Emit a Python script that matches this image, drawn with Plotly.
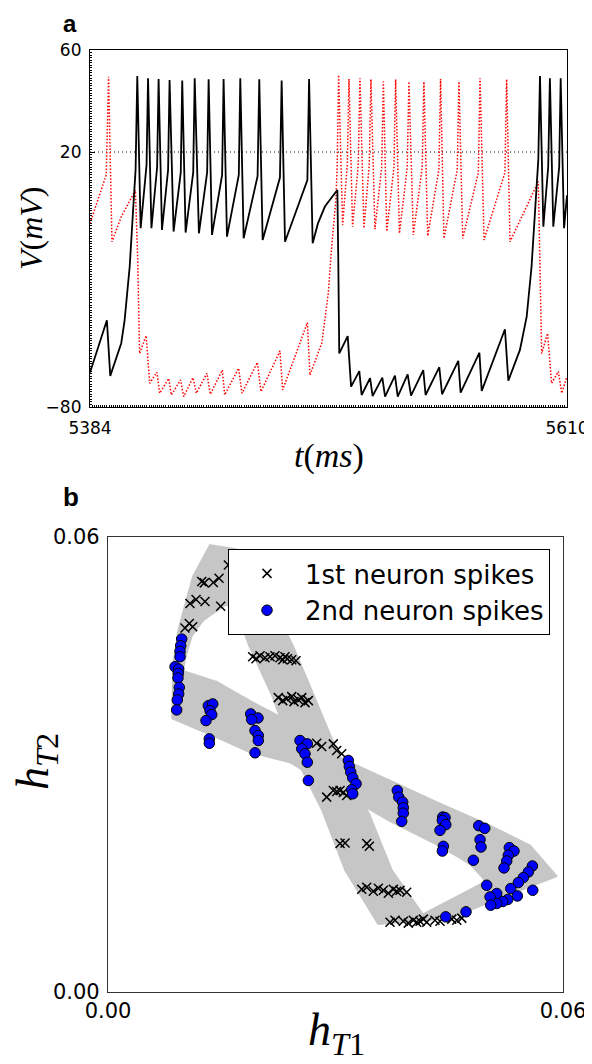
import plotly.graph_objects as go

# ---------------- Panel a : membrane potentials ----------------
V_THRESHOLD = 20  # mV, dotted reference line

t1_ms = [5384.0, 5392.0, 5393.6, 5398.8, 5400.4, 5402.8, 5404.4, 5405.6,
         5406.4, 5408.0, 5410.8, 5411.5, 5413.1, 5415.8, 5416.5, 5418.1,
         5421.0, 5421.7, 5423.6, 5427.0, 5427.7, 5429.3, 5432.9, 5433.6, 5435.6,
         5439.5, 5440.2, 5441.8, 5446.6, 5447.3, 5448.9, 5454.5, 5455.2, 5456.8,
         5463.4, 5464.2, 5465.8, 5474.0, 5474.8, 5476.4, 5487.0, 5487.8, 5489.5,
         5492.0, 5495.3, 5501.2, 5501.6, 5502.1, 5506.1, 5507.7, 5511.6, 5512.7,
         5516.7, 5517.9, 5522.5, 5523.8, 5528.5, 5529.8, 5534.5, 5536.1,
         5541.9, 5543.0, 5549.5, 5550.8, 5558.5, 5559.6, 5568.5, 5569.6,
         5580.6, 5582.2, 5587.7, 5590.9, 5593.2, 5595.3, 5596.4,
         5597.2, 5598.8, 5601.1, 5601.9, 5603.5, 5606.3, 5607.0, 5608.6, 5610.0]
v1_mV = [-66.5, -46.0, -67.8, -55.0, -46.0, -25.0, -3.0, 13.0,
         49.8, -9.9, 15.0, 48.9, -9.9, 14.0, 48.6, -10.6,
         13.0, 48.2, -11.2, 12.0, 48.0, -11.6, 12.0, 48.9, -11.9,
         12.0, 48.5, -12.5, 11.0, 48.6, -13.2, 11.0, 48.9, -13.8,
         10.5, 48.5, -14.5, 10.0, 48.0, -15.2, 9.0, 48.6, -15.8,
         -8.0, -1.4, 5.1, -20.0, -59.0, -52.2, -72.0, -65.9, -75.3,
         -68.7, -75.7, -68.5, -75.9, -67.7, -75.9, -67.2, -75.5,
         -65.5, -75.3, -64.4, -75.0, -61.9, -74.4, -58.7, -73.7,
         -49.5, -69.7, -57.6, -44.6, -25.0, -0.1, 16.9,
         49.8, -9.3, 14.3, 48.9, -9.3, 14.0, 48.9, -9.9, 3.0]

t2_ms = [5384.0, 5391.7, 5392.8, 5394.4, 5398.8, 5404.4, 5405.5, 5406.6, 5407.5,
         5410.6, 5412.3, 5415.7, 5417.0, 5421.3, 5422.5, 5426.9, 5428.4,
         5432.8, 5434.4, 5439.4, 5441.0, 5446.7, 5447.8, 5454.4, 5456.0,
         5463.3, 5465.0, 5474.0, 5475.3, 5487.0, 5488.2, 5493.8, 5496.9,
         5498.5, 5500.5, 5501.1, 5501.8, 5503.7,
         5505.9, 5506.7, 5508.4, 5511.1, 5511.9, 5513.8, 5516.3, 5517.1, 5519.0,
         5522.2, 5523.0, 5524.6, 5528.0, 5528.8, 5530.6, 5534.3, 5535.1, 5537.2,
         5541.4, 5542.2, 5544.0, 5549.3, 5550.1, 5551.7, 5558.0, 5558.8, 5560.6,
         5568.0, 5568.8, 5570.7, 5580.6, 5581.4, 5583.0,
         5596.4, 5597.2, 5598.0, 5600.8, 5602.7, 5605.9, 5607.5, 5610.0]
v2_mV = [-8.0, 11.0, 49.5, -15.2, -5.4, 3.8, 5.0, -22.0, -59.0,
         -52.0, -70.7, -66.4, -74.6, -68.8, -75.3, -69.4, -75.9,
         -68.5, -74.6, -66.8, -75.0, -65.5, -75.3, -64.8, -74.6,
         -62.5, -74.0, -58.0, -73.3, -46.9, -67.5, -55.0, -35.4,
         -17.1, 1.2, 14.0, 50.2, -8.6,
         15.0, 48.6, -9.3, 15.0, 48.9, -9.9, 15.0, 48.5, -10.3,
         14.0, 47.6, -11.2, 14.0, 48.5, -11.9, 14.0, 47.6, -12.5,
         14.0, 47.6, -12.9, 13.0, 48.6, -13.9, 13.0, 47.6, -13.9,
         12.0, 48.9, -14.5, 12.0, 48.5, -15.2,
         8.4, -22.4, -59.0, -51.1, -70.7, -66.1, -74.6, -68.0]

t_ticks = [5384, 5610]
t_ticktext = ["5384", "5610"]
v_ticks = [-80, 20, 60]
v_ticktext = ["\u221280", "20", "60"]

# ---------------- Panel b : (h_T1, h_T2) phase plane ----------------
H_UNIT = 1e-3  # values below are read in units of 1e-3

# two edges of the grey band of trajectories (corresponding stations)
band_a_hT1 = [13.45, 11.21, 10.29, 9.23, 8.57, 8.44, 14.37, 18.73, 24.00, 30.60,
              37.19, 43.78, 47.74, 49.46, 49.59, 47.08, 43.78, 41.54, 37.45, 34.55,
              30.46, 27.17, 24.40, 20.31, 16.88]
band_a_hT2 = [58.95, 54.87, 51.58, 47.63, 43.03, 36.05, 33.55, 31.58, 30.26, 26.32,
              22.50, 19.21, 16.84, 15.00, 14.47, 13.16, 11.45, 10.26, 16.05, 23.29,
              31.18, 39.08, 45.66, 54.21, 58.42]
band_b_hT1 = [15.56, 13.98, 12.53, 11.08, 10.29, 9.89, 14.37, 18.73, 24.00, 30.60,
              37.19, 43.78, 50.38, 55.65, 59.21, 51.69, 45.10, 35.61, 31.26, 28.22,
              24.40, 21.63, 18.59, 17.14, 16.35]
band_b_hT2 = [51.05, 50.00, 48.95, 46.97, 44.34, 42.37, 40.92, 38.42, 35.66, 30.92,
              27.89, 24.87, 21.97, 19.34, 15.26, 12.37, 9.74, 8.95, 16.05, 23.95,
              31.58, 39.08, 45.66, 49.61, 50.66]

spk1_hT1 = [12.36, 12.70, 13.89, 14.64, 15.87, 10.81, 11.61, 12.79, 14.86,
            10.15, 10.72, 11.17,
            19.08, 19.52, 20.05, 20.70, 21.36, 22.02, 22.68, 23.04, 23.34, 23.65, 24.23, 24.79,
            22.46, 23.04, 23.57, 24.23, 24.53, 25.10, 25.55, 25.98, 26.42,
            27.52, 28.18, 29.71, 30.16, 30.82,
            28.84, 29.71, 30.16, 30.60, 31.03, 31.48,
            30.60, 31.26, 34.12, 34.46,
            33.46, 34.12, 34.99, 35.65, 36.31, 36.97, 37.63, 38.07, 38.51, 39.39,
            37.19, 37.85, 38.94, 39.60, 40.26, 40.71, 41.15, 41.58, 42.03, 43.12,
            43.78, 45.33, 45.99, 46.65]
spk1_hT2 = [54.12, 53.95, 53.99, 54.57, 56.32, 51.22, 51.75, 51.49, 50.88,
            47.99, 48.59, 48.16,
            44.21, 43.95, 44.34, 44.08, 44.21, 44.34, 44.08, 43.82, 44.21, 43.95, 43.82, 43.68,
            38.82, 38.42, 38.68, 38.95, 38.29, 38.55, 38.82, 38.16, 38.42,
            32.80, 32.37, 32.72, 31.84, 31.41,
            25.70, 26.58, 26.45, 26.58, 26.32, 25.92,
            19.57, 19.64, 19.57, 19.21,
            13.55, 13.82, 13.29, 13.68, 13.42, 13.03, 13.55, 13.29, 13.42, 13.16,
            9.21, 9.47, 9.34, 9.08, 9.47, 9.21, 9.34, 9.61, 9.21, 9.47,
            9.34, 9.61, 9.47, 9.74]

spk2_hT1 = [9.72, 9.59, 9.50, 9.50, 8.84, 9.32, 9.27, 9.23, 9.40, 9.32, 9.14, 9.06,
            13.23, 13.81, 13.45, 13.68, 12.92, 13.36, 13.36,
            18.82, 19.78, 18.95, 19.39, 19.82, 19.82, 19.39,
            25.32, 26.28, 25.55, 25.98, 26.28, 26.42,
            31.69, 31.82, 32.01, 32.27, 32.71, 32.14, 32.27,
            38.15, 38.34, 38.86, 38.94, 38.94, 38.73,
            44.14, 44.44, 44.09, 44.54, 43.78, 44.22, 44.09,
            48.89, 49.68, 49.06, 49.19, 48.18,
            52.92, 53.54, 52.79, 52.58, 52.22,
            55.96, 55.43, 54.77, 54.11, 53.11, 56.01, 53.98, 52.71, 52.05, 51.26,
            51.26, 50.38, 50.47, 49.94,
            44.54, 47.21]
spk2_hT2 = [46.54, 45.66, 44.91, 44.21, 42.89, 42.59, 42.01, 41.41, 40.17, 39.30, 38.51, 37.20,
            37.76, 37.99, 37.11, 36.58, 35.79, 33.38, 32.80,
            36.67, 36.14, 35.92, 34.47, 33.82, 33.16, 31.54,
            33.16, 32.72, 32.07, 31.41, 30.30, 27.89,
            30.53, 29.74, 28.99, 28.25, 27.46, 26.67, 26.14,
            26.58, 25.70, 25.04, 24.30, 23.59, 22.50,
            23.07, 22.99, 22.63, 22.07, 21.32, 19.21, 18.59,
            21.93, 21.58, 20.09, 19.12, 17.37,
            19.04, 18.59, 18.03, 17.28, 16.36,
            16.62, 15.83, 15.09, 14.43, 13.64, 13.42, 12.67, 12.20, 11.93, 12.99,
            11.67, 12.54, 11.45, 14.08,
            9.91, 10.57]

h_ticks = [0.0, 0.06]
h_ticktext = ["0.00", "0.06"]
legend_names = ["1st neuron spikes", "2nd neuron spikes"]

# ---------------- Figure ----------------
fig = go.Figure()

# Panel a traces
fig.add_trace(go.Scatter(x=[t_ticks[0], t_ticks[-1]], y=[V_THRESHOLD, V_THRESHOLD],
                         mode="lines", line=dict(color="black", width=1, dash="1px,3px"),
                         xaxis="x", yaxis="y", showlegend=False, hoverinfo="skip"))
fig.add_trace(go.Scatter(x=t2_ms, y=v2_mV, mode="lines",
                         line=dict(color="red", width=1.5, dash="1.5px,1.8px"),
                         xaxis="x", yaxis="y", showlegend=False))
fig.add_trace(go.Scatter(x=t1_ms, y=v1_mV, mode="lines",
                         line=dict(color="black", width=1.8),
                         xaxis="x", yaxis="y", showlegend=False))

# Panel b: grey band built from the two edge trajectories
n = len(band_a_hT1)
qx, qy = [], []
for i in range(n):
    j = (i + 1) % n
    qx += [band_a_hT1[i], band_a_hT1[j], band_b_hT1[j], band_b_hT1[i], band_a_hT1[i], None]
    qy += [band_a_hT2[i], band_a_hT2[j], band_b_hT2[j], band_b_hT2[i], band_a_hT2[i], None]
qx = [v * H_UNIT if v is not None else None for v in qx]
qy = [v * H_UNIT if v is not None else None for v in qy]
fig.add_trace(go.Scatter(x=qx, y=qy, mode="lines", fill="toself",
                         fillcolor="#c6c6c6", line=dict(color="#c6c6c6", width=1.5),
                         xaxis="x2", yaxis="y2", showlegend=False, hoverinfo="skip"))

fig.add_trace(go.Scatter(x=[v * H_UNIT for v in spk1_hT1], y=[v * H_UNIT for v in spk1_hT2],
                         mode="markers", name=legend_names[0],
                         marker=dict(symbol="x-thin", size=9, color="black",
                                     line=dict(color="black", width=1.5)),
                         xaxis="x2", yaxis="y2"))
fig.add_trace(go.Scatter(x=[v * H_UNIT for v in spk2_hT1], y=[v * H_UNIT for v in spk2_hT2],
                         mode="markers", name=legend_names[1],
                         marker=dict(symbol="circle", size=10.5, color="#0000ff",
                                     line=dict(color="black", width=1)),
                         xaxis="x2", yaxis="y2"))

# The page places the figure 8 px in from the window's top-left corner;
# layout positions below are given in window pixels and converted.
OFF = 8
W, H = 592 - OFF, 1064 - OFF


def fx(px):
    return (px - OFF) / W


def fy(py):
    return 1 - (py - OFF) / H


ax_a = dict(l=90, r=567, t=50, b=407)
ax_b = dict(l=108, r=563, t=537, b=992)

common = dict(showgrid=False, zeroline=False, showline=True, mirror=True,
              ticks="inside", tickcolor="black", automargin=False)

fig.update_layout(
    width=W, height=H, margin=dict(l=0, r=0, t=0, b=0, pad=0, autoexpand=False),
    paper_bgcolor="white", plot_bgcolor="white",
    xaxis=dict(domain=[fx(ax_a["l"]), fx(ax_a["r"])], anchor="y",
               range=[t_ticks[0], t_ticks[-1]], tickmode="array",
               tickvals=t_ticks, ticktext=t_ticktext, ticklen=5,
               linecolor="black", linewidth=1.2,
               tickfont=dict(family="DejaVu Sans", size=17, color="black"),
               ticklabelstandoff=5,
               minor=dict(tickmode="linear", tick0=5384, dtick=1, ticks="inside",
                          ticklen=2, tickcolor="black", tickwidth=0.6),
               **common),
    yaxis=dict(domain=[fy(ax_a["b"]), fy(ax_a["t"])], anchor="x",
               range=[-80, 60], tickmode="array", tickvals=v_ticks,
               ticktext=v_ticktext, ticklen=5,
               linecolor="black", linewidth=1.2,
               tickfont=dict(family="DejaVu Sans", size=17, color="black"),
               ticklabelstandoff=4,
               minor=dict(tickmode="linear", tick0=-80, dtick=1, ticks="inside",
                          ticklen=2, tickcolor="black", tickwidth=0.6),
               **common),
    xaxis2=dict(domain=[fx(ax_b["l"]), fx(ax_b["r"])], anchor="y2",
                range=[0, 0.06], tickmode="array", tickvals=h_ticks,
                ticktext=h_ticktext, ticklen=4,
                linecolor="#333333", linewidth=1.2,
                tickfont=dict(family="DejaVu Sans", size=21, color="black"),
                ticklabelstandoff=0, **common),
    yaxis2=dict(domain=[fy(ax_b["b"]), fy(ax_b["t"])], anchor="x2",
                range=[0, 0.06], tickmode="array", tickvals=h_ticks,
                ticktext=h_ticktext, ticklen=4,
                linecolor="#333333", linewidth=1.2,
                tickfont=dict(family="DejaVu Sans", size=21, color="black"),
                ticklabelstandoff=3, **common),
    legend=dict(x=fx(550), xanchor="right", y=fy(549), yanchor="top",
                bgcolor="white", bordercolor="black", borderwidth=1,
                font=dict(family="DejaVu Sans", size=26, color="black"),
                tracegroupgap=0, itemwidth=66),
)

serif = "Liberation Serif"
ann = [
    dict(x=fx(70), y=fy(8.5), text="<b>a</b>", yanchor="top", borderpad=0,
         font=dict(family="Liberation Sans", size=24, color="black")),
    dict(x=fx(71), y=fy(497), text="<b>b</b>",
         font=dict(family="Liberation Sans", size=26, color="black")),
    dict(x=fx(31), y=fy(228), text="<i>V</i>(<i>mV</i>)", textangle=-90,
         font=dict(family=serif, size=32, color="black")),
    dict(x=fx(329), y=fy(456), text="<i>t</i>(<i>ms</i>)",
         font=dict(family=serif, size=34, color="black")),
    dict(x=fx(36), y=fy(762), text="<i>h</i><sub><i>T</i>2</sub>", textangle=-90,
         font=dict(family=serif, size=46, color="black")),
    dict(x=fx(336), y=fy(1033), text="<i>h</i><sub><i>T</i>1</sub>",
         font=dict(family=serif, size=46, color="black")),
]
for a in ann:
    a.setdefault("yanchor", "middle")
    a.update(xref="paper", yref="paper", showarrow=False, xanchor="center")
fig.update_layout(annotations=ann)

fig.write_html("out.html")
